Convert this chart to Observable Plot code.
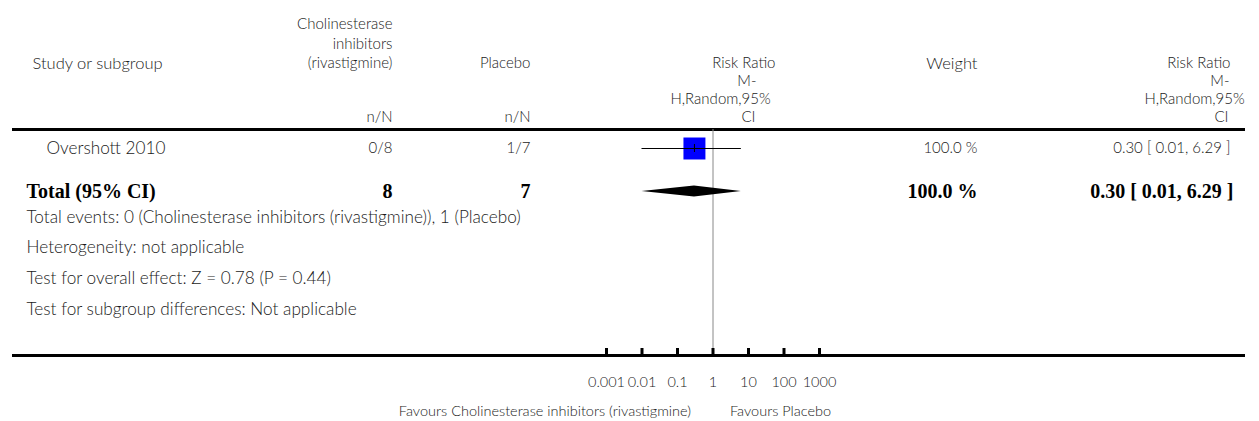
<!DOCTYPE html>
<html>
<head>
<meta charset="utf-8">
<script src="https://cdn.jsdelivr.net/npm/d3@7"></script>
<script src="https://cdn.jsdelivr.net/npm/@observablehq/plot@0.6"></script>
<style>
  html, body { margin: 0; padding: 0; background: #fff; }
  #chart svg { display: block; }
</style>
</head>
<body>
<div id="chart"></div>
<script>
// ---------- data ----------
const studyNames = ["Overshott 2010"];
const expEvents = [0];
const expTotals = [8];
const ctrlEvents = [1];
const ctrlTotals = [7];
const riskRatios = [0.30];
const ciLower = [0.01];
const ciUpper = [6.29];
const weights = [100.0];

const totalLabel = "Total (95% CI)";
const totalExpN = 8;
const totalCtrlN = 7;
const totalRR = 0.30;
const totalLo = 0.01;
const totalHi = 6.29;
const totalWeight = 100.0;

const footnotes = [
  "Total events: 0 (Cholinesterase inhibitors (rivastigmine)), 1 (Placebo)",
  "Heterogeneity: not applicable",
  "Test for overall effect: Z = 0.78 (P = 0.44)",
  "Test for subgroup differences: Not applicable"
];

const tickValues = [0.001, 0.01, 0.1, 1, 10, 100, 1000];
const tickLabels = ["0.001", "0.01", "0.1", "1", "10", "100", "1000"];
const favoursLeft = "Favours Cholinesterase inhibitors (rivastigmine)";
const favoursRight = "Favours Placebo";

const headerStudy = "Study or subgroup";
const headerExp = ["Cholinesterase", "inhibitors", "(rivastigmine)", "n/N"];
const headerCtrl = ["Placebo", "n/N"];
const headerForest = ["Risk Ratio", "M-", "H,Random,95%", "CI"];
const headerWeight = "Weight";
const headerRR = ["Risk Ratio", "M-", "H,Random,95%", "CI"];

// ---------- layout (pixels) ----------
const W = 1259, H = 421;
const frameL = 12, frameR = 1245;
const forestRange = [606, 819];
const lineTop = 129, lineBottom = 355;
const hdrY = [24, 43.5, 63, 81, 99, 117];
const rowY = { study: 148, total: 191, notes: [217, 247, 278, 309] };
const tickLabelY = 382, favoursY = 411;
const col = { studyIndent: 46, totalLeft: 26, hdrStudy: 32, exp: 392, ctrl: 530, weight: 977, rr: 1230 };
// stacked header lines: [x, anchor]
const forestHdrPos = [[775, "end"], [756, "end"], [670, "start"], [755, "end"]];
const rrHdrPos = [[1230, "end"], [1229, "end"], [1144, "start"], [1228, "end"]];
const txt = "#1a1a1a";
const sans = "Lato, 'Open Sans', sans-serif";
const serif = "'Liberation Serif', 'DejaVu Serif', serif";
const fsText = 17.2, fsHdr = 15, fsHdrSingle = 16.5, fsNum = 15, fsAxis = 14.5, fsBold = 20, fw = 300;

const fmt2 = d3.format(".2f");
const ciText = (e, l, u) => `${fmt2(e)} [ ${fmt2(l)}, ${fmt2(u)} ]`;

const studies = studyNames.map((name, i) => ({
  name, exp: `${expEvents[i]}/${expTotals[i]}`, ctrl: `${ctrlEvents[i]}/${ctrlTotals[i]}`,
  rr: riskRatios[i], lo: ciLower[i], hi: ciUpper[i], w: `${weights[i].toFixed(1)} %`,
  ci: ciText(riskRatios[i], ciLower[i], ciUpper[i])
}));
const total = [{ label: totalLabel, exp: String(totalExpN), ctrl: String(totalCtrlN),
  w: `${totalWeight.toFixed(1)} %`, ci: ciText(totalRR, totalLo, totalHi) }];
const diamondH = 5.5;
const diamond = [
  { x: totalLo, y1: rowY.total, y2: rowY.total },
  { x: totalRR, y1: rowY.total - diamondH, y2: rowY.total + diamondH },
  { x: totalHi, y1: rowY.total, y2: rowY.total }
];

// helper: text placed at a fixed column
const colText = (data, x, opts) => Plot.text(data, {
  frameAnchor: "left", dx: x - frameL, fill: txt, fontFamily: sans, fontSize: fsText, fontWeight: fw,
  lineAnchor: "middle", ...opts
});
const boldText = (data, x, opts) => colText(data, x, {
  fontFamily: serif, fontWeight: "bold", fontSize: fsBold, fill: "#000", ...opts
});
const hdrText = (t, x, y, anchor, fs = fsHdr) => colText([t], x, { y: () => y, text: d => d, textAnchor: anchor, fontSize: fs });

const stackY4 = [hdrY[2], hdrY[3], hdrY[4], hdrY[5]];
const stacked = (lines, pos) => lines.map((t, i) => hdrText(t, pos[i][0], stackY4[i], pos[i][1]));

const chart = Plot.plot({
  width: W, height: H,
  marginLeft: frameL, marginRight: W - frameR, marginTop: 0, marginBottom: 0,
  style: { fontFamily: sans, background: "#fff", color: txt },
  x: { type: "log", domain: [0.001, 1000], range: forestRange, axis: null },
  y: { type: "identity", axis: null },
  marks: [
    // header
    hdrText(headerStudy, col.hdrStudy, hdrY[2], "start", fsHdrSingle),
    ...headerExp.map((t, i) => hdrText(t, col.exp, [hdrY[0], hdrY[1], hdrY[2], hdrY[5]][i], "end")),
    ...headerCtrl.map((t, i) => hdrText(t, col.ctrl, [hdrY[2], hdrY[5]][i], "end")),
    ...stacked(headerForest, forestHdrPos),
    hdrText(headerWeight, col.weight, hdrY[2], "end", fsHdrSingle),
    ...stacked(headerRR, rrHdrPos),
    // horizontal rules
    Plot.ruleY([lineTop, lineBottom], { y: d => d, stroke: "#000", strokeWidth: 3 }),
    // line of no effect
    Plot.ruleX([1], { y1: lineTop, y2: lineBottom, stroke: "#888", strokeWidth: 1 }),
    // study row
    colText(studies, col.studyIndent, { y: () => rowY.study, text: "name", textAnchor: "start" }),
    colText(studies, col.exp, { y: () => rowY.study, text: "exp", textAnchor: "end", fontSize: fsNum }),
    colText(studies, col.ctrl, { y: () => rowY.study, text: "ctrl", textAnchor: "end", fontSize: fsNum }),
    colText(studies, col.weight, { y: () => rowY.study, text: "w", textAnchor: "end", fontSize: fsNum }),
    colText(studies, col.rr, { y: () => rowY.study, text: "ci", textAnchor: "end", fontSize: fsNum }),
    Plot.dot(studies, { x: "rr", y: () => rowY.study, symbol: "square", r: 12.4, fill: "#0000ff", stroke: "none" }),
    Plot.ruleY(studies, { x1: "lo", x2: "hi", y: () => rowY.study, stroke: "#000", strokeWidth: 1 }),
    Plot.ruleX(studies, { x: "rr", y1: () => rowY.study - 4, y2: () => rowY.study + 4, stroke: "#000", strokeWidth: 1 }),
    // total row
    boldText(total, col.totalLeft, { y: () => rowY.total, text: "label", textAnchor: "start" }),
    boldText(total, col.exp, { y: () => rowY.total, text: "exp", textAnchor: "end" }),
    boldText(total, col.ctrl, { y: () => rowY.total, text: "ctrl", textAnchor: "end" }),
    boldText(total, col.weight, { y: () => rowY.total, text: "w", textAnchor: "end" }),
    boldText(total, col.rr + 3, { y: () => rowY.total, text: "ci", textAnchor: "end" }),
    Plot.area(diamond, { x1: "x", y1: "y1", y2: "y2", fill: "#000", curve: "linear" }),
    // footnotes
    colText(footnotes, col.totalLeft, { y: (d, i) => rowY.notes[i], text: d => d, textAnchor: "start" }),
    // axis ticks & labels
    Plot.ruleX(tickValues, { x: d => d, y1: lineBottom - 7, y2: lineBottom, stroke: "#000", strokeWidth: 3 }),
    Plot.text(tickValues, { x: d => d, y: () => tickLabelY, text: (d, i) => tickLabels[i], fill: txt, fontFamily: sans, fontWeight: fw, fontSize: fsAxis, lineAnchor: "middle" }),
    Plot.text([favoursLeft], { x: () => 1, y: () => favoursY, text: d => d, dx: -22, textAnchor: "end", fill: txt, fontFamily: sans, fontWeight: fw, fontSize: fsAxis, lineAnchor: "middle" }),
    Plot.text([favoursRight], { x: () => 1, y: () => favoursY, text: d => d, dx: 17, textAnchor: "start", fill: txt, fontFamily: sans, fontWeight: fw, fontSize: fsAxis, lineAnchor: "middle" })
  ]
});
document.getElementById("chart").appendChild(chart);
</script>
</body>
</html>
